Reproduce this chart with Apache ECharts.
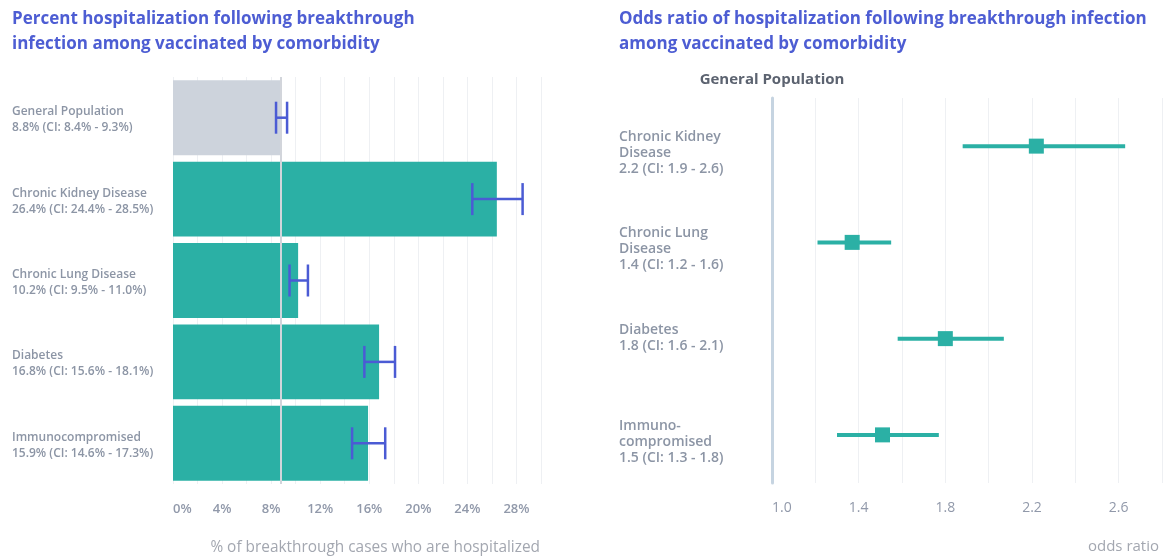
<!DOCTYPE html>
<html>
<head>
<meta charset="utf-8">
<script src="https://cdn.jsdelivr.net/npm/echarts@6/dist/echarts.min.js"></script>
<style>
html,body{margin:0;padding:0;background:#fff;}
#c{width:1165px;height:559px;}
</style>
</head>
<body>
<div id="c"></div>
<script>
// ---- Left panel data ----
const categories = ['General Population', 'Chronic Kidney Disease', 'Chronic Lung Disease', 'Diabetes', 'Immunocompromised'];
const pctValues = [8.8, 26.4, 10.2, 16.8, 15.9];
const pctLow = [8.4, 24.4, 9.5, 15.6, 14.6];
const pctHigh = [9.3, 28.5, 11.0, 18.1, 17.3];
const pctTicks = [0, 4, 8, 12, 16, 20, 24, 28];

// ---- Right panel data ----
const orCategories = ['Chronic Kidney\nDisease', 'Chronic Lung\nDisease', 'Diabetes', 'Immuno-\ncompromised'];
const orText = ['2.2 (CI: 1.9 - 2.6)', '1.4 (CI: 1.2 - 1.6)', '1.8 (CI: 1.6 - 2.1)', '1.5 (CI: 1.3 - 1.8)'];
const orValues = [2.22, 1.37, 1.80, 1.51];
const orLow = [1.88, 1.21, 1.58, 1.30];
const orHigh = [2.63, 1.55, 2.07, 1.77];
const orTicks = [1.0, 1.4, 1.8, 2.2, 2.6];
const refLabel = 'General Population';

const FONT = '"Open Sans", sans-serif';
const TEAL = '#2bb0a5';
const GREY_BAR = '#cdd3dc';
const BLUE = '#4b5bd4';
const LABEL_GREY = '#8c95a5';

const leftLabels = categories.map((c, i) =>
  c + '\n' + pctValues[i].toFixed(1) + '% (CI: ' + pctLow[i].toFixed(1) + '% - ' + pctHigh[i].toFixed(1) + '%)');
const rightLabels = orCategories.map((c, i) => c + '\n' + orText[i]);

const chart = echarts.init(document.getElementById('c'));

const option = {
  animation: false,
  textStyle: { fontFamily: FONT },
  title: [
    {
      text: 'Percent hospitalization following breakthrough\ninfection among vaccinated by comorbidity',
      left: 7, top: 2,
      textStyle: { fontFamily: FONT, fontSize: 17, fontWeight: 'bold', color: '#4d5dd3', lineHeight: 25 }
    },
    {
      text: 'Odds ratio of hospitalization following breakthrough infection\namong vaccinated by comorbidity',
      left: 614, top: 2,
      textStyle: { fontFamily: FONT, fontSize: 17, fontWeight: 'bold', color: '#4d5dd3', lineHeight: 25 }
    }
  ],
  grid: [
    { left: 173, right: 624, top: 77, bottom: 75, containLabel: false },
    { left: 772, right: 1, top: 98, bottom: 76, containLabel: false }
  ],
  xAxis: [
    {
      gridIndex: 0, type: 'value', min: 0, max: 30, interval: 2,
      axisLine: { show: false }, axisTick: { show: false },
      splitLine: { show: true, lineStyle: { color: '#eef0f3', width: 1 } },
      axisLabel: {
        margin: 19, color: '#9199aa', fontSize: 13, fontWeight: 600, fontFamily: FONT,
        alignMinLabel: 'left',
        formatter: v => pctTicks.indexOf(v) >= 0 ? v + '%' : ''
      },
      name: '% of breakthrough cases who are hospitalized',
      nameLocation: 'end', nameGap: -1,
      nameTextStyle: { align: 'right', verticalAlign: 'top', padding: [56, 0, 0, 0], color: '#a3a7b0', fontSize: 15.4, fontFamily: FONT }
    },
    {
      gridIndex: 1, type: 'value', min: 1.0, max: 2.8, interval: 0.2,
      axisLine: { show: false }, axisTick: { show: false },
      splitLine: { show: true, lineStyle: { color: '#eef0f3', width: 1 } },
      axisLabel: {
        margin: 18, color: '#9199aa', fontSize: 14, fontFamily: FONT,
        alignMinLabel: 'left',
        formatter: v => orTicks.some(t => Math.abs(t - v) < 1e-6) ? v.toFixed(1) : ''
      },
      name: 'odds ratio',
      nameLocation: 'end', nameGap: -3,
      nameTextStyle: { align: 'right', verticalAlign: 'top', padding: [56, 0, 0, 0], color: '#a3a7b0', fontSize: 15, fontFamily: FONT }
    }
  ],
  yAxis: [
    {
      gridIndex: 0, type: 'category', data: leftLabels, inverse: true,
      axisLine: { show: false }, axisTick: { show: false },
      axisLabel: { align: 'left', verticalAlign: 'top', margin: 161, color: LABEL_GREY, fontSize: 12, fontWeight: 600, lineHeight: 16, padding: [-14, 0, 0, 0], fontFamily: FONT }
    },
    {
      gridIndex: 1, type: 'category', data: rightLabels, inverse: true,
      axisLine: { show: true, lineStyle: { color: '#c6d4e1', width: 3 } },
      axisTick: { show: false },
      axisLabel: { align: 'left', verticalAlign: 'top', margin: 153, color: LABEL_GREY, fontSize: 14, fontWeight: 600, lineHeight: 16, padding: [-17, 0, 0, 0], fontFamily: FONT },
      name: refLabel, nameLocation: 'start', nameGap: 11,
      nameTextStyle: { align: 'center', color: '#5c6370', fontSize: 15, fontWeight: 'bold', fontFamily: FONT }
    }
  ],
  series: [
    {
      type: 'bar', xAxisIndex: 0, yAxisIndex: 0,
      data: pctValues.map((v, i) => ({ value: v, itemStyle: { color: i === 0 ? GREY_BAR : TEAL } })),
      barCategoryGap: '8%',
      markLine: {
        silent: true, symbol: 'none', label: { show: false },
        lineStyle: { color: '#d2d5db', width: 2, type: 'solid' },
        data: [{ xAxis: pctValues[0] }]
      }
    },
    {
      type: 'custom', xAxisIndex: 0, yAxisIndex: 0,
      data: categories.map((c, i) => [i, pctLow[i], pctHigh[i]]),
      encode: { x: [1, 2], y: 0 },
      z: 5,
      renderItem: function (params, api) {
        const i = api.value(0);
        const p1 = api.coord([api.value(1), i]);
        const p2 = api.coord([api.value(2), i]);
        const h = 16;
        const style = { stroke: BLUE, lineWidth: 2.5 };
        return {
          type: 'group',
          children: [
            { type: 'line', shape: { x1: p1[0], y1: p1[1], x2: p2[0], y2: p2[1] }, style },
            { type: 'line', shape: { x1: p1[0], y1: p1[1] - h, x2: p1[0], y2: p1[1] + h }, style },
            { type: 'line', shape: { x1: p2[0], y1: p2[1] - h, x2: p2[0], y2: p2[1] + h }, style }
          ]
        };
      }
    },
    {
      type: 'custom', xAxisIndex: 1, yAxisIndex: 1,
      data: orCategories.map((c, i) => [i, orValues[i], orLow[i], orHigh[i]]),
      encode: { x: [1, 2, 3], y: 0 },
      z: 5,
      renderItem: function (params, api) {
        const i = api.value(0);
        const pv = api.coord([api.value(1), i]);
        const pl = api.coord([api.value(2), i]);
        const ph = api.coord([api.value(3), i]);
        const s = 15;
        return {
          type: 'group',
          children: [
            { type: 'line', shape: { x1: pl[0], y1: pl[1], x2: ph[0], y2: ph[1] }, style: { stroke: TEAL, lineWidth: 4 } },
            { type: 'rect', shape: { x: pv[0] - s / 2, y: pv[1] - s / 2, width: s, height: s }, style: { fill: TEAL } }
          ]
        };
      }
    }
  ]
};
chart.setOption(option);
</script>
</body>
</html>
